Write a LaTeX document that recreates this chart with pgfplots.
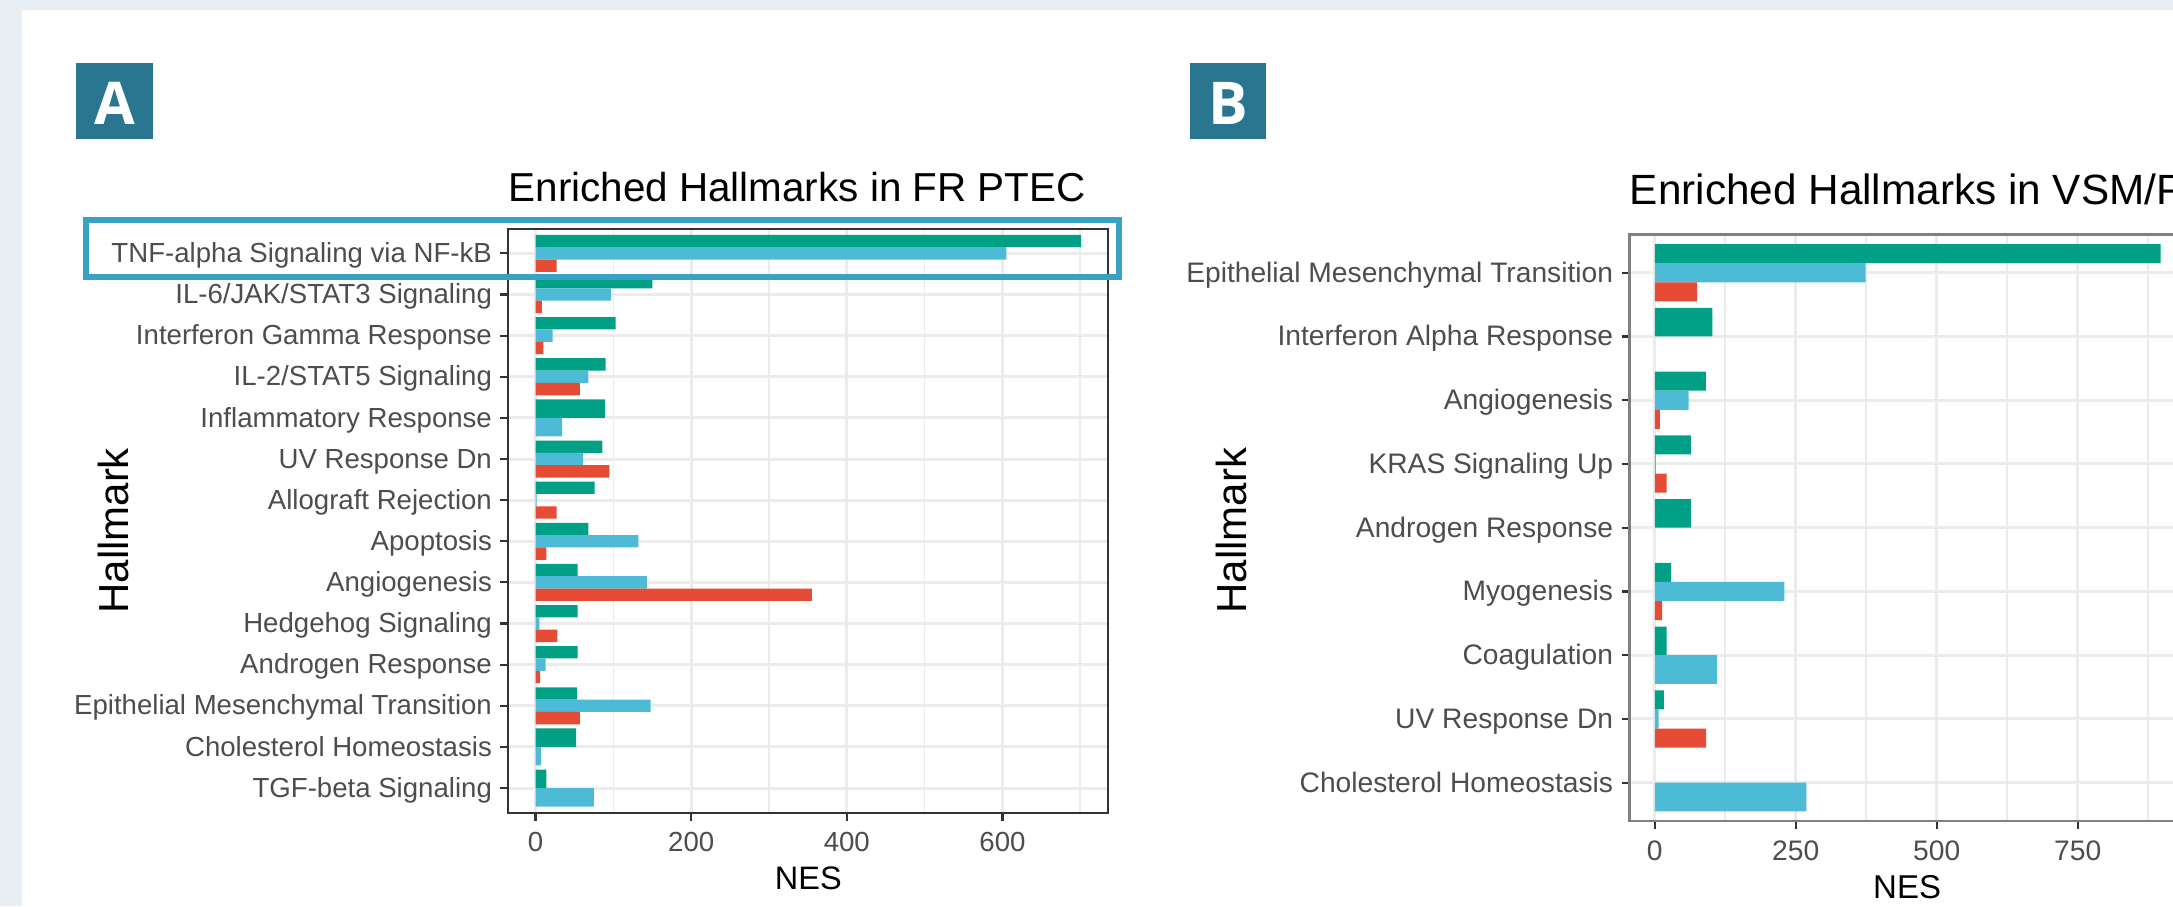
\documentclass[border=0pt]{standalone}
\usepackage{fontspec}
\setmainfont{Liberation Sans}
\newfontfamily\panelfont{Open Sans}
\usepackage{pgfplots}
\pgfplotsset{compat=1.18}

% ggsci "npg" palette and ggplot2 greys
\definecolor{npggreen}{HTML}{00A087}
\definecolor{npgblue}{HTML}{4DBBD5}
\definecolor{npgred}{HTML}{E64B35}
\definecolor{grey20}{HTML}{333333}
\definecolor{grey30}{HTML}{4D4D4D}
\definecolor{grey92}{HTML}{EBEBEB}
\definecolor{pagebg}{HTML}{E7EFF5}
\definecolor{tagbox}{HTML}{2A7690}
\definecolor{highlight}{HTML}{3AA0C5}

\pgfplotsset{
  hallmarkbars/.style={
    scale only axis,
    xbar,
    axis line style={line width=1pt},
    tick align=outside,
    tick pos=left,
    major tick length=4pt,
    minor tick length=0pt,
    major tick style={grey20, line width=1.1pt},
    xmajorgrids, ymajorgrids, xminorgrids,
    major grid style={grey92, line width=1.5pt},
    minor grid style={grey92, line width=0.8pt},
    /pgf/number format/assume math mode=true,
    yticklabel style={text=grey30, inner sep=0pt, anchor=base east, xshift=-4pt},
    xticklabel style={text=grey30, inner sep=0pt, yshift=-5.5pt},
    title style={anchor=base west, inner sep=0pt, text=black},
    xlabel style={anchor=base, inner sep=0pt, text=black},
    ylabel style={anchor=base, inner sep=0pt, text=black},
  },
  three/.style={bar width=0.3, bar shift=0pt, draw=none},
  two/.style={bar width=0.45, bar shift=0pt, draw=none},
}

\begin{document}
\begin{tikzpicture}
\useasboundingbox (0,0) rectangle (1086.5pt,453pt);
\clip (0,0) rectangle (1086.5pt,453pt);
\fill[pagebg] (0,0) rectangle (1086.5pt,453pt);
\fill[white] (11pt,0) rectangle (1086.5pt,448pt);

% panel tags
\fill[tagbox] (38pt,383.35pt) rectangle (76.5pt,421.35pt);
\node[anchor=base, text=white, inner sep=0pt, font=\panelfont\bfseries\fontsize{29.5}{30}\selectfont] at (57.25pt,390.5pt) {A};
\fill[tagbox] (595.2pt,383.35pt) rectangle (633.05pt,421.35pt);
\node[anchor=base, text=white, inner sep=0pt, font=\panelfont\bfseries\fontsize{29.5}{30}\selectfont] at (614.1pt,390.5pt) {B};

% ---------- A: FR PTEC ----------
\begin{axis}[hallmarkbars,
  at={(254.15pt,46.65pt)}, anchor=south west,
  width=300pt, height=292pt,
  axis line style={grey20},
  xmin=-35.05, xmax=736.05,
  ymin=0.4, ymax=14.6,
  xtick={0,200,400,600},
  minor xtick={100,300,500,700},
  ytick={1,...,14},
  yticklabels={TGF-beta Signaling, Cholesterol Homeostasis, Epithelial Mesenchymal Transition,
    Androgen Response, Hedgehog Signaling, Angiogenesis, Apoptosis, Allograft Rejection,
    UV Response Dn, Inflammatory Response, IL-2/STAT5 Signaling, Interferon Gamma Response,
    IL-6/JAK/STAT3 Signaling, TNF-alpha Signaling via NF-kB},
  ticklabel style={font=\fontsize{13.8}{16}\selectfont},
  yticklabel style={yshift=-4.6pt},
  title={Enriched Hallmarks in FR PTEC},
  title style={at={(axis description cs:0,1)}, yshift=7.5pt, font=\fontsize{20.2}{24}\selectfont},
  xlabel={NES},
  xlabel style={at={(axis description cs:0.5,-0.1312)}, font=\fontsize{16.25}{19}\selectfont},
  ylabel={Hallmark},
  ylabel style={at={(axis description cs:-0.6335,0.4827)}, font=\fontsize{21}{24}\selectfont},
]
% categories with three groups
\addplot[three, fill=npggreen] coordinates {
  (701,14.3) (150,13.3) (103,12.3) (90,11.3) (86,9.3) (76,8.3)
  (68,7.3) (54,6.3) (54,5.3) (54,4.3) (53,3.3)};
\addplot[three, fill=npgblue] coordinates {
  (605,14) (97,13) (22,12) (68,11) (61,9) (1.5,8)
  (132,7) (143,6) (5,5) (13,4) (148,3)};
\addplot[three, fill=npgred] coordinates {
  (27,13.7) (8,12.7) (10,11.7) (57,10.7) (95,8.7) (27,7.7)
  (14,6.7) (355,5.7) (28,4.7) (6,3.7) (57,2.7)};
% categories with two groups
\addplot[two, fill=npggreen] coordinates {(89,10.225) (52,2.225) (14,1.225)};
\addplot[two, fill=npgblue] coordinates {(34,9.775) (7,1.775) (75,0.775)};
\end{axis}

% ---------- B: VSM/P ----------
\begin{axis}[hallmarkbars,
  at={(814.75pt,42.525pt)}, anchor=south west,
  width=277.6pt, height=293.25pt,
  axis line style={gray, line width=1.2pt},
  xmin=-44.75, xmax=939.75,
  ymin=0.4, ymax=9.6,
  xtick={0,250,500,750},
  minor xtick={125,375,625,875},
  ytick={1,...,9},
  yticklabels={Cholesterol Homeostasis, UV Response Dn, Coagulation, Myogenesis,
    Androgen Response, KRAS Signaling Up, Angiogenesis, Interferon Alpha Response,
    Epithelial Mesenchymal Transition},
  ticklabel style={font=\fontsize{14.1}{16}\selectfont},
  yticklabel style={yshift=-4.75pt},
  title={Enriched Hallmarks in VSM/P},
  title style={at={(axis description cs:0,1)}, yshift=9pt, font=\fontsize{21.15}{25}\selectfont},
  xlabel={NES},
  xlabel style={at={(axis description cs:0.5,-0.1319)}, font=\fontsize{16.5}{19}\selectfont},
  ylabel={Hallmark},
  ylabel style={at={(axis description cs:-0.690,0.4952)}, font=\fontsize{21}{24}\selectfont},
]
\addplot[three, fill=npggreen] coordinates {
  (897,9.3) (90.5,7.3) (64,6.3) (29,4.3) (16,2.3)};
\addplot[three, fill=npgblue] coordinates {
  (374,9) (60,7) (2,6) (230,4) (7,2)};
\addplot[three, fill=npgred] coordinates {
  (75,8.7) (9,6.7) (21,5.7) (13,3.7) (91,1.7)};
\addplot[two, fill=npggreen] coordinates {(102,8.225) (64,5.225) (21,3.225)};
\addplot[two, fill=npgblue] coordinates {(110,2.775) (269,0.775)};
\end{axis}

% highlighted row
\draw[highlight, line width=3pt] (43pt,314.65pt) rectangle (559.25pt,342.75pt);
\end{tikzpicture}
\end{document}
